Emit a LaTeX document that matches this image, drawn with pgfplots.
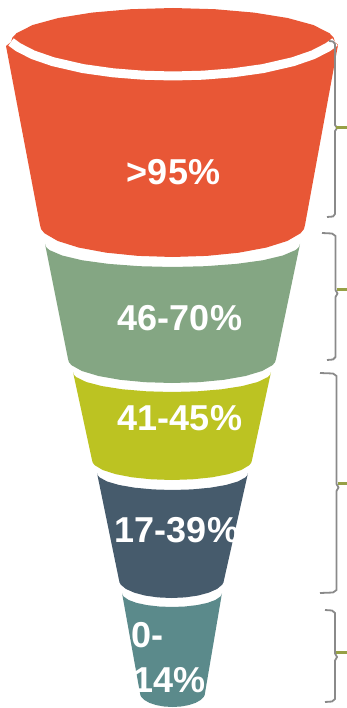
\documentclass[border=0pt]{standalone}
\usepackage{pgfplots}
\pgfplotsset{compat=1.18}
\usepackage{fontspec}
\setmainfont{Liberation Sans}
\definecolor{cOrange}{RGB}{232,87,54}
\definecolor{cGreen}{RGB}{132,166,131}
\definecolor{cYellow}{RGB}{188,195,34}
\definecolor{cDark}{RGB}{70,91,108}
\definecolor{cTeal}{RGB}{91,138,139}
\definecolor{cGray}{RGB}{138,138,138}
\definecolor{cTick}{RGB}{150,160,70}
\begin{document}
\begin{tikzpicture}[lbl/.style={text=white, font=\bfseries\fontsize{36}{43}\selectfont, inner sep=0pt}]
\begin{axis}[
  width=347pt, height=708pt, scale only axis,
  xmin=0, xmax=347, ymin=0, ymax=708, y dir=reverse,
  hide axis, clip=false,
]
% segment 1 (cap + body)
\addplot[fill=cOrange, draw=none, mark=none] coordinates {
(6,46) (11,42) (12.4,37.6) (16.5,33.2) (32.7,25) (58.4,18) (92,12.6) (131.1,9.2) (173,8)
(214.9,9.2) (254,12.6) (287.6,18) (313.3,25) (329.5,33.2) (333.6,37.6) (335,42) (338,45)
(305,225) (303.9,229.2) (300.5,233.3) (287.2,241) (266.2,247.6) (238.8,252.7) (206.8,255.9)
(172.5,257) (138.2,255.9) (106.3,252.7) (78.8,247.6) (57.8,241) (44.5,233.3) (41.1,229.2) (40,225)
} -- cycle;
\addplot[white, line width=9pt, line join=round, mark=none] coordinates {
(11,41.9) (18,47.1) (33,54.8) (53,61.7) (83,68.6) (113,72.8) (143,75.2) (173,76)
(203,75.2) (233,72.8) (263,68.6) (293,61.7) (313,54.8) (328,47.1) (335,41.9)
};
% segment 2
\addplot[fill=cGreen, draw=none, mark=none] coordinates {
(45,244) (46.1,247) (49.3,250) (62.1,255.5) (82.3,260.3) (108.75,263.9) (139.5,266.2) (172.5,267)
(205.5,266.2) (236.25,263.9) (262.7,260.3) (282.9,255.5) (295.7,250) (298.9,247) (300,244)
(276,359) (275.1,362.1) (272.5,365.2) (262.1,371) (245.5,376) (224,379.8) (198.9,382.2) (172,383)
(145.1,382.2) (120,379.8) (98.5,376) (81.9,371) (71.5,365.2) (68.9,362.1) (68,359)
} -- cycle;
% segment 3
\addplot[fill=cYellow, draw=none, mark=none] coordinates {
(73,372) (73.8,374.6) (76.4,377.2) (86.3,382) (102,386.1) (122.5,389.3) (146.4,391.3) (172,392)
(197.6,391.3) (221.5,389.3) (242,386.1) (257.7,382) (267.6,377.2) (270.2,374.6) (271,372)
(252,460) (251.3,462.6) (249.3,465.2) (241.3,470) (228.6,474.1) (212,477.3) (192.7,479.3) (172,480)
(151.3,479.3) (132,477.3) (115.4,474.1) (102.7,470) (94.7,465.2) (92.7,462.6) (92,460)
} -- cycle;
% segment 4
\addplot[fill=cDark, draw=none, mark=none] coordinates {
(97,473) (97.6,475.2) (99.6,477.4) (107.1,481.5) (119.1,485) (134.75,487.7) (153,489.4) (172.5,490)
(192,489.4) (210.25,487.7) (225.9,485) (237.9,481.5) (245.4,477.4) (247.4,475.2) (248,473)
(224,580) (223.5,582.3) (222.2,584.7) (217,589) (208.6,592.7) (197.75,595.6) (185.1,597.4) (171.5,598)
(157.9,597.4) (145.25,595.6) (134.4,592.7) (126,589) (120.8,584.7) (119.5,582.3) (119,580)
} -- cycle;
% segment 5
\addplot[fill=cTeal, draw=none, mark=none] coordinates {
(122,593) (122.4,594.8) (123.7,596.6) (128.7,600) (136.6,602.9) (147,605.1) (159.1,606.5) (172,607)
(184.9,606.5) (197,605.1) (207.4,602.9) (215.3,600) (220.3,596.6) (221.6,594.8) (222,593)
(205,693) (204.7,694.8) (203.9,696.6) (200.6,700) (195.5,702.9) (188.75,705.1) (180.9,706.5) (172.5,707)
(164.1,706.5) (156.25,705.1) (149.5,702.9) (144.4,700) (141.1,696.6) (140.3,694.8) (140,693)
} -- cycle;
% brackets
\addplot[cGray, line width=1.8pt, line join=round, mark=none] coordinates {
(329,41) (333,41.5) (335,44) (335,125) (337,128) (335,131) (335,214) (333,216.5) (327,217)};
\addplot[cGray, line width=1.8pt, line join=round, mark=none] coordinates {
(322,233) (332,233.5) (335.5,236) (335.5,290) (337.5,293.5) (335.5,297) (335.5,357) (333,359.5) (327,360)};
\addplot[cGray, line width=1.8pt, line join=round, mark=none] coordinates {
(320,373) (333,373.5) (336.5,376) (336.5,484) (338.5,487.5) (336.5,491) (336.5,590) (333,592.5) (320,593)};
\addplot[cGray, line width=1.8pt, line join=round, mark=none] coordinates {
(325,610) (332,610.5) (335,613) (335,653.5) (337,657) (335,660.5) (335,699) (332,701.5) (325,702)};
% green ticks
\addplot[cTick, line width=3pt, mark=none] coordinates {(336,128) (347,128)};
\addplot[cTick, line width=3pt, mark=none] coordinates {(336.5,289) (347,289)};
\addplot[cTick, line width=3pt, mark=none] coordinates {(337.5,483) (347,483)};
\addplot[cTick, line width=3pt, mark=none] coordinates {(336,652.5) (347,652.5)};
% labels
\node[lbl, anchor=base] at (axis cs:173.5,185) {>95\%};
\node[lbl, anchor=base] at (axis cs:180,330) {46-70\%};
\node[lbl, anchor=base] at (axis cs:180,430) {41-45\%};
\node[lbl, anchor=base] at (axis cs:177,542) {17-39\%};
\node[lbl, anchor=base west] at (axis cs:131.5,647) {0-};
\node[lbl, anchor=base west] at (axis cs:133,692) {14\%};
\coordinate (bl) at (axis cs:0,708);
\coordinate (tr) at (axis cs:347,0);
\end{axis}
\pgfresetboundingbox
\path[use as bounding box] (bl) rectangle (tr);
\end{tikzpicture}
\end{document}
